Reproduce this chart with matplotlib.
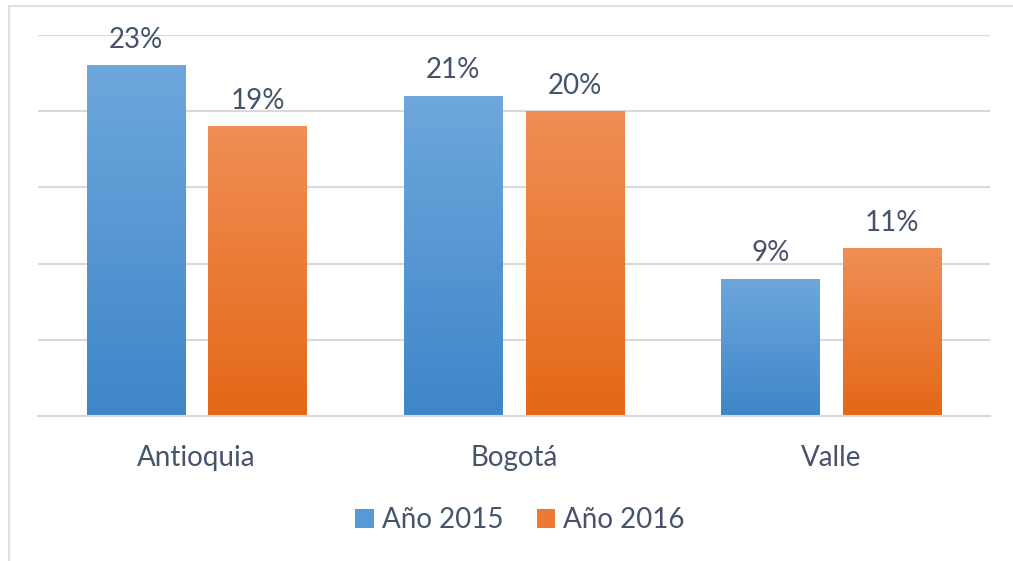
import numpy as np
import matplotlib
matplotlib.use("Agg")
import matplotlib.pyplot as plt
from matplotlib.colors import LinearSegmentedColormap
from matplotlib.patches import Patch
from matplotlib.lines import Line2D

regions = ["Antioquia", "Bogotá", "Valle"]
series_names = ["Año 2015", "Año 2016"]
values_2015 = [23, 21, 9]
values_2016 = [19, 20, 11]

plt.rcParams["font.family"] = ["Lato", "DejaVu Sans"]
text_color = "#44546a"
grid_color = "#d9d9d9"

fig = plt.figure(figsize=(10.13, 5.61), dpi=100)
ax = fig.add_axes([38 / 1013, 1 - 416 / 561, 952 / 1013, 381 / 561])

x = np.arange(len(regions))
width = 0.31
offset = 0.192

blue_cmap = LinearSegmentedColormap.from_list("b", ["#3e86c8", "#6ea7dd"])
orange_cmap = LinearSegmentedColormap.from_list("o", ["#e46816", "#f08e55"])
grad = np.linspace(0, 1, 256).reshape(-1, 1)

for vals, dx, cmap in [(values_2015, -offset, blue_cmap), (values_2016, offset, orange_cmap)]:
    bars = ax.bar(x + dx, vals, width, color="none", zorder=2)
    for bar, v in zip(bars, vals):
        x0, w, h = bar.get_x(), bar.get_width(), bar.get_height()
        im = ax.imshow(grad, cmap=cmap, origin="lower", aspect="auto",
                       extent=(x0, x0 + w, 0, h), zorder=2)
        im.set_clip_path(bar)
        ax.annotate(f"{v}%", xy=(x0 + w / 2, h), xytext=(0, 9),
                    textcoords="offset points", ha="center", va="bottom",
                    fontsize=20, color=text_color)

ax.set_xlim(-0.5, len(regions) - 0.5)
ax.set_ylim(0, 25)
ax.set_yticks(np.arange(0, 26, 5))
ax.set_yticklabels([])
ax.yaxis.grid(True, color=grid_color, linewidth=1.5)
ax.set_axisbelow(True)
ax.tick_params(axis="y", length=0)
ax.set_xticks(x)
ax.set_xticklabels(regions, fontsize=20, color=text_color)
ax.tick_params(axis="x", length=0, pad=21)
for s in ["top", "right", "left"]:
    ax.spines[s].set_visible(False)
ax.spines["bottom"].set_color(grid_color)
ax.spines["bottom"].set_linewidth(1.5)

handles = [Patch(facecolor="#5699d5", edgecolor="none"),
           Patch(facecolor="#ec7a33", edgecolor="none")]
fig.legend(handles, series_names, loc="center", bbox_to_anchor=(520 / 1013, 1 - 520 / 561),
           ncol=2, frameon=False, fontsize=20, labelcolor=text_color,
           handlelength=0.65, handleheight=0.65, handletextpad=0.3, columnspacing=1.2)

# outer chart frame
fig.add_artist(Line2D([9 / 1013, 9 / 1013], [0, 1 - 6 / 561], transform=fig.transFigure,
                      color="#dde2ea", linewidth=1.5))
fig.add_artist(Line2D([9 / 1013, 1], [1 - 6 / 561, 1 - 6 / 561], transform=fig.transFigure,
                      color="#dde2ea", linewidth=1.5))

fig.savefig("out.png", dpi=100)
